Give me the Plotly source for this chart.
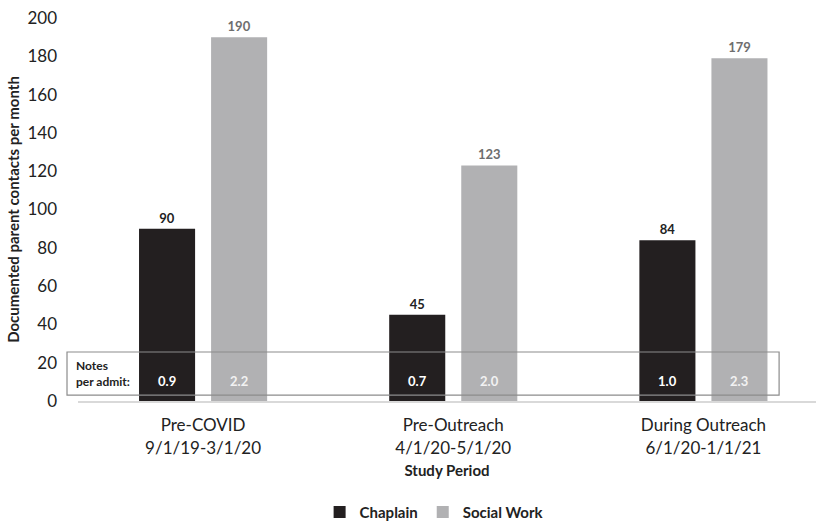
import plotly.graph_objects as go

# Study periods (two-line tick labels)
periods = ["Pre-COVID<br>9/1/19-3/1/20", "Pre-Outreach<br>4/1/20-5/1/20", "During Outreach<br>6/1/20-1/1/21"]
chaplain = [90, 45, 84]
social_work = [190, 123, 179]
# Notes per admission for each discipline
chaplain_notes = [0.9, 0.7, 1.0]
social_notes = [2.2, 2.0, 2.3]

FONT = "Lato, 'Open Sans', sans-serif"
DARK = "#231f20"
LIGHT = "#b1b1b3"

x = list(range(len(periods)))

fig = go.Figure()
fig.add_trace(go.Bar(
    x=x, y=chaplain, name="Chaplain", marker=dict(color=DARK, line=dict(width=0)),
    texttemplate="<b>%{y}</b>", textposition="outside",
    outsidetextfont=dict(family=FONT, size=13, color="#222"), cliponaxis=False,
))
fig.add_trace(go.Bar(
    x=x, y=social_work, name="Social Work", marker=dict(color=LIGHT, line=dict(width=0)),
    texttemplate="<b>%{y}</b>", textposition="outside",
    outsidetextfont=dict(family=FONT, size=13, color="#6e6e6e"), cliponaxis=False,
))

# "Notes per admit" box spanning the lower part of the chart
fig.add_shape(type="rect", xref="paper", yref="y", x0=-0.0149, x1=0.95, y0=3.1, y1=25.6,
              line=dict(color="#8c8c8c", width=1.2), fillcolor="rgba(0,0,0,0)", layer="above")
fig.add_annotation(x=-0.006, y=14.3, xref="paper", yref="y", xanchor="left", yanchor="middle",
                   text="<b>Notes<br>per admit:</b>", showarrow=False, align="left",
                   font=dict(family=FONT, size=12, color="#222"))

bar_off = 0.144
for i in x:
    fig.add_annotation(x=i - bar_off, y=10.4, xref="x", yref="y", showarrow=False,
                       text=f"<b>{chaplain_notes[i]:.1f}</b>",
                       font=dict(family=FONT, size=13, color="white"))
    fig.add_annotation(x=i + bar_off, y=10.4, xref="x", yref="y", showarrow=False,
                       text=f"<b>{social_notes[i]:.1f}</b>",
                       font=dict(family=FONT, size=13, color="#f2f2f2"))

fig.update_layout(
    width=816, height=521,
    margin=dict(l=78, r=0, t=18, b=120, autoexpand=False),
    paper_bgcolor="white", plot_bgcolor="white",
    barmode="group", bargap=0.424, bargroupgap=0.222,
    font=dict(family=FONT, color="#222"),
    showlegend=True,
    legend=dict(orientation="h", xref="container", yref="container",
                x=0.532, xanchor="center", y=0.017, yanchor="middle",
                font=dict(family=FONT, size=15, color="#222", weight="bold"),
                traceorder="normal", itemwidth=30),
    xaxis=dict(
        range=[-0.5, 2.45], tickmode="array", tickvals=x, ticktext=periods,
        tickfont=dict(family=FONT, size=17, color="#222"),
        showline=True, linecolor="#d9d9d9", linewidth=2, ticks="", showgrid=False,
        zeroline=False, ticklabelstandoff=8,
        title=dict(text="<b>Study Period</b>", font=dict(family=FONT, size=15, color="#222"),
                   standoff=9),
    ),
    yaxis=dict(
        range=[0, 200], tickvals=list(range(0, 201, 20)),
        tickfont=dict(family=FONT, size=17, color="#222"),
        showgrid=False, zeroline=False, showline=False, ticks="",
        ticklabelstandoff=20,
        title=dict(text="<b>Documented parent contacts per month</b>",
                   font=dict(family=FONT, size=15, color="#222"), standoff=4),
    ),
)

fig.write_html("out.html")
